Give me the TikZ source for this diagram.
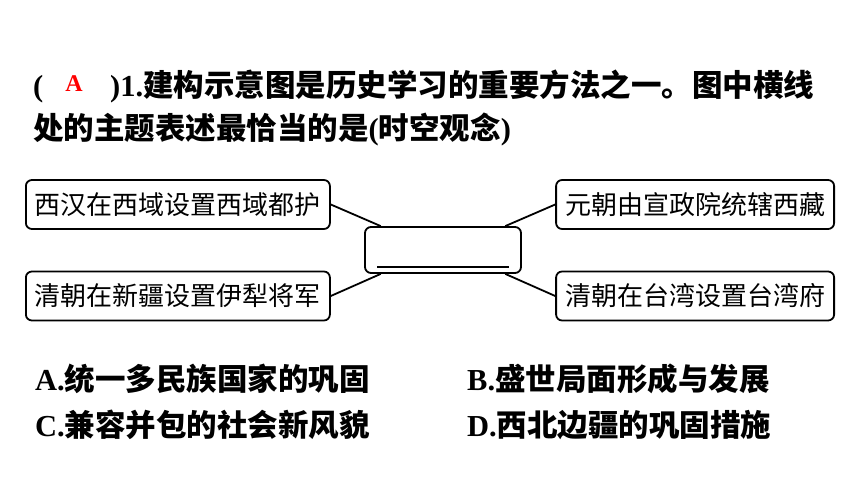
\documentclass[tikz,border=0pt]{standalone}
\usepackage{fontspec}
\setmainfont{Liberation Serif}
\newfontfamily\cjk{Noto Sans CJK SC}

\begin{document}
\begin{tikzpicture}[x=1pt, y=-1pt,
    item/.style={draw, line width=1.8pt, rounded corners=6pt, minimum height=49pt, inner xsep=9pt, font=\cjk\fontsize{26}{26}\selectfont},
    stem/.style={anchor=base west, inner sep=0pt, font=\bfseries\fontsize{30.5}{30.5}\selectfont}]
    \useasboundingbox (0,0) rectangle (860,484);

    \node[stem] (open) at (33,97) {(};
    \node[anchor=base, inner sep=0pt, red, font=\bfseries\fontsize{24}{24}\selectfont] (ans) at (74,92) {A};
    \node[stem] (q1) at (110,97) {)1.{\cjk 建构示意图是历史学习的重要方法之一。图中横线}};
    \node[stem] (q2) at (33,140) {{\cjk 处的主题表述最恰当的是}({\cjk 时空观念})};

    \node[draw, line width=1.8pt, rounded corners=6pt, minimum width=156pt, minimum height=46pt] (theme) at (443,250) {};
    \draw[line width=1.8pt] ([xshift=-66pt, yshift=-17pt]theme.center) -- ([xshift=66pt, yshift=-17pt]theme.center);

    \node[item, anchor=west] (xy) at (25,204.5) {西汉在西域设置西域都护};
    \node[item, anchor=west] (yl) at (25,296) {清朝在新疆设置伊犁将军};
    \node[item, anchor=east] (xz) at (835,204.5) {元朝由宣政院统辖西藏};
    \node[item, anchor=east] (tw) at (835,296) {清朝在台湾设置台湾府};

    \draw[line width=1.8pt] (xy.east) -- (theme.159);
    \draw[line width=1.8pt] (yl.east) -- (theme.201);
    \draw[line width=1.8pt] (xz.west) -- (theme.21);
    \draw[line width=1.8pt] (tw.west) -- (theme.-21);

    \node[stem] (optA) at (35,390) {A.{\cjk 统一多民族国家的巩固}};
    \node[stem] (optB) at (467,390) {B.{\cjk 盛世局面形成与发展}};
    \node[stem] (optC) at (35,436) {C.{\cjk 兼容并包的社会新风貌}};
    \node[stem] (optD) at (467,436) {D.{\cjk 西北边疆的巩固措施}};
\end{tikzpicture}
\end{document}
